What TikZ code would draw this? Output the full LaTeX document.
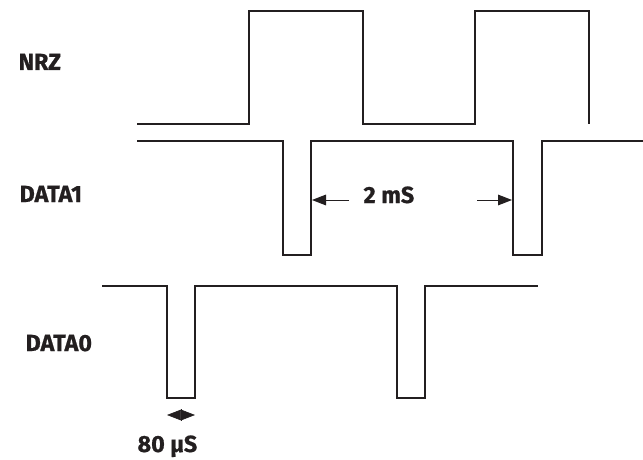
\documentclass[tikz,border=0pt]{standalone}
\usepackage{fontspec}
\setsansfont{Fira Sans}[BoldFeatures={FakeBold=0.8}]
\usetikzlibrary{arrows.meta}
\definecolor{ink}{HTML}{231F20}

\begin{document}
\begin{tikzpicture}[x=0.75pt, y=-0.75pt, line width=0.9pt, color=ink,
  every node/.style={font=\sffamily\bfseries\fontsize{17.5}{20}\selectfont, inner sep=0pt, anchor=base west},
  tip/.style={-{Triangle[length=10.5pt,width=8pt]}, line width=0.7pt},
  smalltip/.style={-{Triangle[length=10.5pt,width=8pt]}, line width=0.5pt}]
  \useasboundingbox (0,0) rectangle (643,460);
  % labels
  \node (nrz) at (18,70) {NRZ};
  \node (data1) at (19,202) {DATA1};
  \node (data0) at (25,351) {DATA0};
  % waveforms
  \draw (137,124) -- (249,124) -- (249,11) -- (363,11) -- (363,124) -- (475,124)
    -- (475,11) -- (589,11) -- (589,124);
  \draw (137,141) -- (283,141) -- (283,255) -- (311,255) -- (311,141) -- (513,141)
    -- (513,255) -- (542,255) -- (542,141) -- (643,141);
  \draw (102,286) -- (167,286) -- (167,398) -- (195,398) -- (195,286) -- (397,286)
    -- (397,398) -- (425,398) -- (425,286) -- (538,286);
  % period
  \node (period) at (363,203) {2 mS};
  \coordinate (pl) at (349,200);
  \coordinate (pr) at (477,200);
  \draw[tip] (pl) -- (312,200);
  \draw[tip] (pr) -- (512,200);
  % pulse width
  \coordinate (wm) at (181,415);
  \draw[smalltip] (wm) -- (167,415);
  \draw[smalltip] (wm) -- (195,415);
  \draw[line width=0.4pt] (181,409) -- (181,421);
  \node (width) at (137,452) {80 μS};
\end{tikzpicture}
\end{document}
